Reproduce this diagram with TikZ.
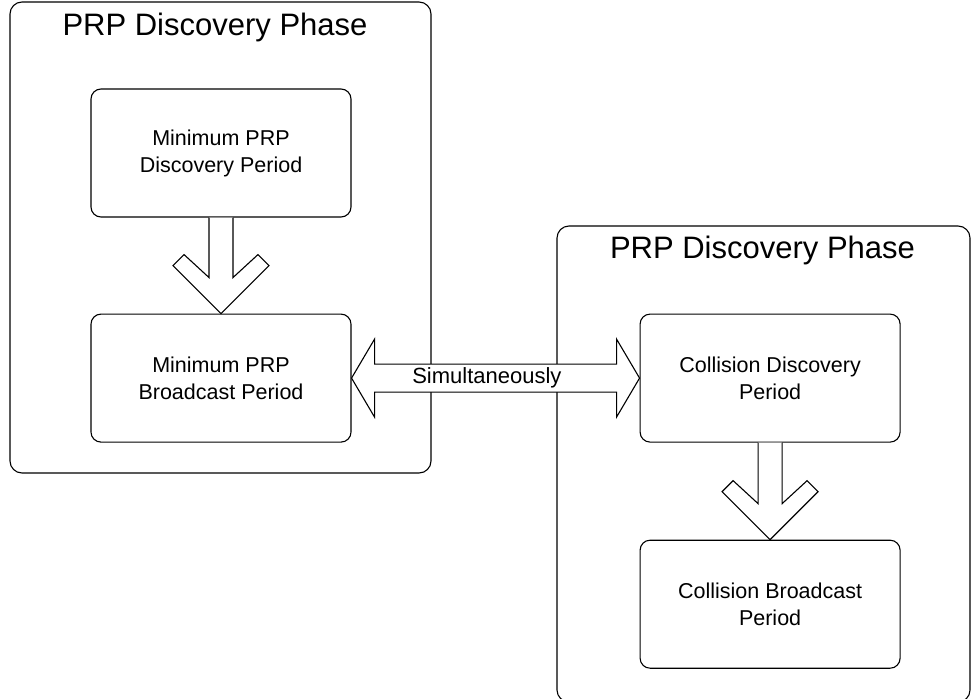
\documentclass[tikz,border=0pt]{standalone}
\usepackage{fontspec}
\setmainfont{Liberation Sans}
\usetikzlibrary{calc,positioning}

\begin{document}
\begin{tikzpicture}[x=1pt,y=1pt,line width=1.1pt,
    phase/.style={draw,rounded corners=12pt,minimum width=421pt,minimum height=471pt},
    period/.style={draw,rounded corners=10pt,minimum width=260pt,minimum height=128pt,
                   align=center,font=\fontsize{21.5}{27}\selectfont},
    title/.style={anchor=base,font=\fontsize{31}{36}\selectfont},
    blockarrow/.style={draw,fill=white,line join=miter}]
        \useasboundingbox (0,0) rectangle (973,-698);
        \clip (0,0) rectangle (973,-698);

        \node[phase] (leftphase) at (220.5,-237.5) {};
        \node[title] (lefttitle) at (215,-36) {PRP Discovery Phase};
        \node[phase,minimum width=413pt,minimum height=476pt] (rightphase) at (763.5,-464) {};
        \node[title] (righttitle) at (762.5,-258) {PRP Discovery Phase};

        \node[period] (disc) at (221,-153) {Minimum PRP\\Discovery Period};
        \node[period,below=96pt of disc] (bcast) {Minimum PRP\\Broadcast Period};
        \node[period,right=288pt of bcast] (coldisc) {Collision Discovery\\Period};
        \node[period,below=97pt of coldisc] (colbcast) {Collision Broadcast\\Period};

        % down arrows
        \draw[blockarrow] ($(disc.south)+(-12,0)$) -- ($(bcast.north)+(-12,36)$)
            -- ++(-25,23) -- ++(-11,-11) -- (bcast.north) -- ++(48,48)
            -- ++(-11,11) -- ++(-25,-23) -- ($(disc.south)+(12,0)$);
        \draw[blockarrow] ($(coldisc.south)+(-12,0)$) -- ($(colbcast.north)+(-12,36)$)
            -- ++(-25,23) -- ++(-11,-11) -- (colbcast.north) -- ++(48,48)
            -- ++(-11,11) -- ++(-25,-23) -- ($(coldisc.south)+(12,0)$);

        % both ways
        \draw[blockarrow] (bcast.east) -- ++(23,39) -- ++(0,-25)
            -- ($(coldisc.west)+(-23,14)$) -- ++(0,25) -- (coldisc.west)
            -- ++(-23,-39) -- ++(0,25) -- ($(bcast.east)+(23,-14)$)
            -- ++(0,-25) -- cycle;
        \node[font=\fontsize{22}{27}\selectfont] (simul)
            at ($(bcast.east)!0.47!(coldisc.west)$) {Simultaneously};
\end{tikzpicture}
\end{document}
